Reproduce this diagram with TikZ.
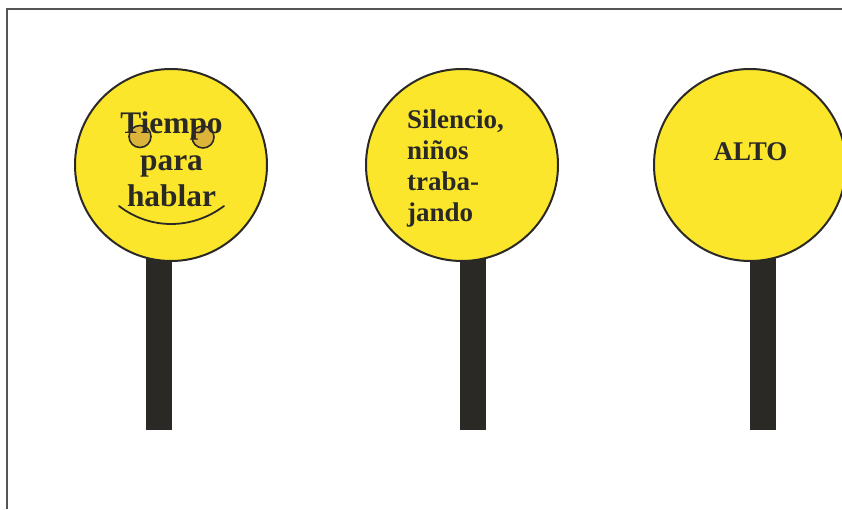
\documentclass[tikz,border=0pt]{standalone}
\usepackage{fontspec}
\setmainfont{Liberation Serif}
\definecolor{signyellow}{HTML}{FBE62C}
\definecolor{inkdark}{HTML}{2A2926}
\definecolor{eyeorange}{HTML}{DDB43A}
\definecolor{framegray}{HTML}{555555}
\tikzset{
  signface/.style={circle,draw=inkdark,line width=2pt,fill=signyellow,minimum size=192pt,inner sep=0pt},
  signstem/.style={fill=inkdark,draw=none},
  bigtext/.style={font=\fontsize{31.4pt}{36pt}\selectfont\bfseries,text=inkdark,anchor=base,inner sep=0pt},
  smalltext/.style={font=\fontsize{27pt}{31pt}\selectfont\bfseries,text=inkdark,anchor=base west,inner sep=0pt},
  signeye/.style={circle,draw=inkdark,line width=1.6pt,fill=eyeorange,minimum size=22pt,inner sep=0pt},
}
\begin{document}
\begin{tikzpicture}[x=1pt,y=-1pt]
\useasboundingbox (0,0) rectangle (842,510);
\clip (0,0) rectangle (842,510);
\fill[white] (0,0) rectangle (842,510);
\draw[framegray,line width=2pt] (6.5,509) -- (6.5,9.5) -- (842,9.5);
% stems
\fill[signstem] (146,258) rectangle (172,430);
\fill[signstem] (460,258) rectangle (486,430);
\fill[signstem] (750,258) rectangle (776,430);
% faces
\node[signface] (faceA) at (171,165) {};
\node[signface] (faceB) at (462,165) {};
\node[signface] (faceC) at (750,165) {};
% eyes
\node[signeye] (eyeL) at (140,136.5) {};
\node[signeye] (eyeR) at (203,137) {};
% text
\node[bigtext] (t1) at (171.5,133.5) {Tiempo};
\node[bigtext] (t2) at (171.5,171) {para};
\node[bigtext] (t3) at (171.5,207) {hablar};
\node[smalltext] (s1) at (407,129) {Silencio,};
\node[smalltext] (s2) at (407,160) {niños};
\node[smalltext] (s3) at (407,191) {traba-};
\node[smalltext] (s4) at (407,222) {jando};
\node[smalltext,anchor=base] (alto) at (750.5,161) {ALTO};
% smile
\draw[inkdark,line width=1.8pt,line cap=round] (119,206) .. controls (150,230) and (192,230) .. (224,206);
\end{tikzpicture}
\end{document}
